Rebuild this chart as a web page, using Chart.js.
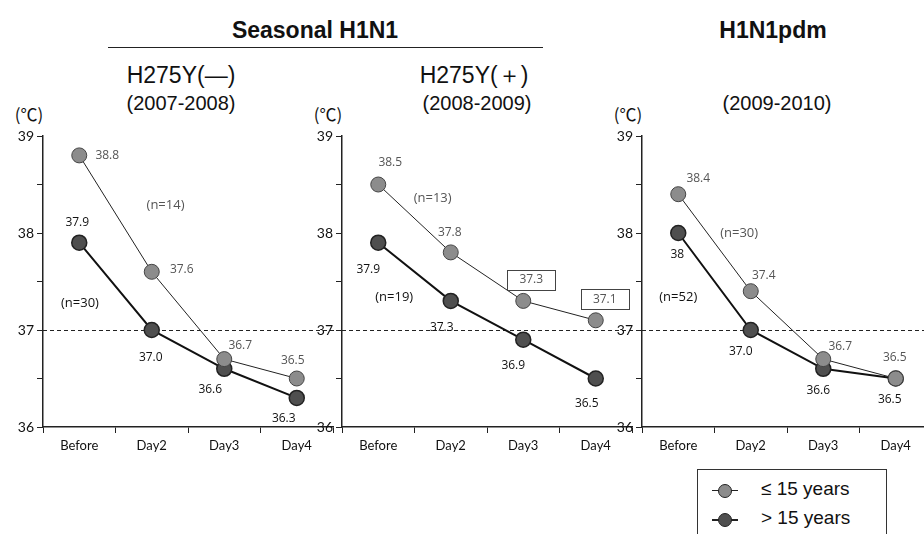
<!DOCTYPE html>
<html>
<head>
<meta charset="utf-8">
<script src="https://cdn.jsdelivr.net/npm/chart.js@4.4.0/dist/chart.umd.min.js"></script>
<style>
html, body { margin: 0; padding: 0; background: #fff; }
#wrap { position: relative; width: 924px; height: 534px; overflow: hidden; font-family: "Liberation Sans", Arial, sans-serif; color: #111; }
.panel { position: absolute; top: 100px; width: 340px; height: 357px; }
.t { position: absolute; transform: translate(-50%, -50%); white-space: nowrap; }
.big { font-size: 23px; font-weight: bold; }
.sub { font-size: 23px; }
.yr { font-size: 20px; }
.unit { font-size: 17px; font-family: "Noto Sans CJK JP", sans-serif; }
#rule { position: absolute; left: 108px; top: 47px; width: 435px; border-top: 1.5px solid #222; }
#legend { position: absolute; left: 697px; top: 469px; width: 188px; height: 80px; border: 1.5px solid #333; }
.entry { position: absolute; left: 14px; height: 20px; width: 170px; }
.entry .ln { position: absolute; left: 0; top: 9px; width: 26px; border-top: 2px solid #222; }
.entry .dot { position: absolute; left: 6px; top: 3px; width: 12px; height: 12px; border-radius: 50%; border: 1.5px solid #222; }
.entry span { position: absolute; left: 49px; top: -3px; font-size: 19px; }
</style>
</head>
<body>
<div id="wrap">
  <div class="t big" style="left:315px;top:30px">Seasonal H1N1</div>
  <div id="rule"></div>
  <div class="t big" style="left:773px;top:30px">H1N1pdm</div>
  <div class="t sub" style="left:181px;top:75px">H275Y(—)</div>
  <div class="t sub" style="left:474px;top:75px">H275Y(＋)</div>
  <div class="t yr" style="left:181px;top:103px">(2007-2008)</div>
  <div class="t yr" style="left:477px;top:103px">(2008-2009)</div>
  <div class="t yr" style="left:777px;top:103px">(2009-2010)</div>
  <div class="t unit" style="left:29px;top:113px">(℃)</div>
  <div class="t unit" style="left:328px;top:113px">(℃)</div>
  <div class="t unit" style="left:628px;top:113px">(℃)</div>

  <div class="panel" style="left:3px"><canvas id="c0"></canvas></div>
  <div class="panel" style="left:302px"><canvas id="c1"></canvas></div>
  <div class="panel" style="left:602px"><canvas id="c2"></canvas></div>

  <div id="legend">
    <div class="entry" style="top:11px"><div class="ln" style="border-top-width:1px"></div><div class="dot" style="background:#8c8c8c"></div><span>≤ 15 years</span></div>
    <div class="entry" style="top:40px"><div class="ln"></div><div class="dot" style="background:#4f4f4f"></div><span>&gt; 15 years</span></div>
  </div>
</div>

<script>
// data
const days = ['Before', 'Day2', 'Day3', 'Day4'];
const yMin = 36;
const yMax = 39;
const refTemp = 37;

const young = [
    [38.8, 37.6, 36.7, 36.5],
    [38.5, 37.8, 37.3, 37.1],
    [38.4, 37.4, 36.7, 36.5]
];
const adult = [
    [37.9, 37.0, 36.6, 36.3],
    [37.9, 37.3, 36.9, 36.5],
    [38.0, 37.0, 36.6, 36.5]
];
const youngText = [
    ['38.8', '37.6', '36.7', '36.5'],
    ['38.5', '37.8', '37.3', '37.1'],
    ['38.4', '37.4', '36.7', '36.5']
];
const adultText = [
    ['37.9', '37.0', '36.6', '36.3'],
    ['37.9', '37.3', '36.9', '36.5'],
    ['38', '37.0', '36.6', '36.5']
];
const youngN = ['(n=14)', '(n=13)', '(n=30)'];
const adultN = ['(n=30)', '(n=19)', '(n=52)'];

// label placement (pixels from the point) and annotation anchors (axis units)
const youngOff = [
    [[28, 0], [30, -2], [16, -14], [-4, -18]],
    [[12, -22], [-1, -20], [8, -21], [9, -21]],
    [[20, -16], [13, -16], [17, -13], [-1, -21]]
];
const adultOff = [
    [[-2, -20], [-1, 28], [-14, 21], [-13, 21]],
    [[-10, 27], [-9, 27], [-10, 26], [-9, 25]],
    [[-1, 22], [-10, 22], [-5, 22], [-6, 21]]
];
const youngBoxed = [[], [2, 3], []];
const youngNAt = [[1.19, 38.29], [0.75, 38.36], [0.84, 38.0]];
const adultNAt = [[0.01, 37.28], [0.22, 37.34], [0.0, 37.34]];

const valueFont = '12px "Open Sans", "DejaVu Sans", sans-serif';

const marks = {
    id: 'marks',
    beforeDatasetsDraw(chart) {
        const { ctx, chartArea, scales } = chart;
        const yy = Math.round(scales.y.getPixelForValue(refTemp)) + 0.5;
        ctx.save();
        ctx.setLineDash([4, 3]);
        ctx.strokeStyle = '#222';
        ctx.lineWidth = 1;
        ctx.beginPath();
        ctx.moveTo(chartArea.left, yy);
        ctx.lineTo(chartArea.right + 12, yy);
        ctx.stroke();
        ctx.restore();
    },
    afterDatasetsDraw(chart, args, opts) {
        const p = opts.panel;
        const { ctx, scales } = chart;
        ctx.save();
        ctx.font = valueFont;
        ctx.textAlign = 'center';
        ctx.textBaseline = 'middle';
        const sets = [
            { meta: chart.getDatasetMeta(0), text: youngText[p], off: youngOff[p], color: '#555' },
            { meta: chart.getDatasetMeta(1), text: adultText[p], off: adultOff[p], color: '#111' }
        ];
        sets.forEach((s, k) => {
            s.meta.data.forEach((pt, i) => {
                const x = pt.x + s.off[i][0];
                const y = pt.y + s.off[i][1];
                ctx.fillStyle = s.color;
                ctx.fillText(s.text[i], x, y);
                if (k === 0 && youngBoxed[p].includes(i)) {
                    ctx.strokeStyle = '#444';
                    ctx.lineWidth = 1;
                    ctx.strokeRect(Math.round(x - 24) + 0.5, Math.round(y - 10) + 0.5, 48, 20);
                }
            });
        });
        ctx.font = '13px "Open Sans", "DejaVu Sans", sans-serif';
        ctx.fillStyle = '#555';
        ctx.fillText(youngN[p], scales.x.getPixelForValue(youngNAt[p][0]), scales.y.getPixelForValue(youngNAt[p][1]));
        ctx.fillStyle = '#111';
        ctx.fillText(adultN[p], scales.x.getPixelForValue(adultNAt[p][0]), scales.y.getPixelForValue(adultNAt[p][1]));
        ctx.restore();
    }
};

function makePanel(p) {
    const ctx = document.getElementById('c' + p).getContext('2d');
    return new Chart(ctx, {
        type: 'line',
        data: {
            labels: days,
            datasets: [
                {
                    label: '≤ 15 years',
                    data: young[p],
                    borderColor: '#222',
                    borderWidth: 1,
                    pointBackgroundColor: '#8c8c8c',
                    pointBorderColor: '#444',
                    pointBorderWidth: 1,
                    pointRadius: 7.5,
                    tension: 0
                },
                {
                    label: '> 15 years',
                    data: adult[p],
                    borderColor: '#111',
                    borderWidth: 2,
                    pointBackgroundColor: '#4f4f4f',
                    pointBorderColor: '#222',
                    pointBorderWidth: 1.5,
                    pointRadius: 7.5,
                    tension: 0
                }
            ]
        },
        options: {
            responsive: true,
            maintainAspectRatio: false,
            animation: false,
            layout: { padding: { top: 36, right: 10, left: 0, bottom: 0 } },
            scales: {
                x: {
                    offset: true,
                    grid: { offset: true, drawOnChartArea: false, tickLength: 6, color: '#222', lineWidth: 1 },
                    border: { color: '#222', width: 1.5 },
                    ticks: { color: '#111', padding: 5, font: { size: 13, family: 'Lato, "DejaVu Sans", sans-serif' }, maxRotation: 0 },
                    afterFit: s => { s.height = 30; }
                },
                y: {
                    min: yMin,
                    max: yMax,
                    grid: { drawOnChartArea: false, tickLength: 6, color: '#222', lineWidth: 1 },
                    border: { color: '#222', width: 1.5 },
                    ticks: {
                        stepSize: 0.5,
                        color: '#111',
                        padding: 3,
                        font: { size: 14, family: 'Lato, "DejaVu Sans", sans-serif' },
                        callback: v => (Number.isInteger(v) ? v : '')
                    },
                    afterFit: s => { s.width = 40; }
                }
            },
            plugins: {
                legend: { display: false },
                tooltip: { enabled: false },
                marks: { panel: p }
            }
        },
        plugins: [marks]
    });
}

[0, 1, 2].forEach(makePanel);
</script>
</body>
</html>
